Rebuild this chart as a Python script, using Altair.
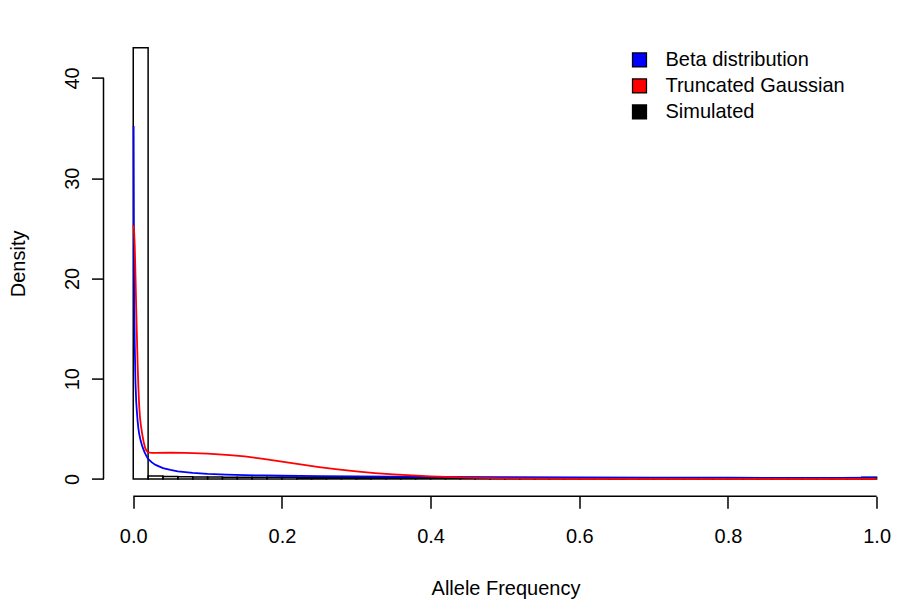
import altair as alt
import pandas as pd

# ---- data ----
x_ticks = [0.0, 0.2, 0.4, 0.6, 0.8, 1.0]
y_ticks = [0, 10, 20, 30, 40]

bin_width = 0.02
hist_heights = [
    43.0, 0.30, 0.25, 0.22, 0.20, 0.20, 0.18, 0.18, 0.17, 0.16,
    0.16, 0.15, 0.15, 0.14, 0.14, 0.13, 0.13, 0.12, 0.12, 0.12,
    0.11, 0.11, 0.10, 0.10, 0.10, 0.09, 0.09, 0.08, 0.08, 0.08,
    0.07, 0.07, 0.06, 0.06, 0.05, 0.05, 0.04, 0.04, 0.04, 0.03,
    0.03, 0.03, 0.03, 0.03, 0.03, 0.03, 0.03, 0.03, 0.03, 0.18,
]

beta_x = [0.0005, 0.001, 0.0015, 0.002, 0.003, 0.004, 0.005, 0.006, 0.007, 0.008,
          0.01, 0.012, 0.015, 0.018, 0.02, 0.025, 0.03, 0.04, 0.05, 0.06,
          0.08, 0.1, 0.125, 0.15, 0.175, 0.2, 0.25, 0.3, 0.4, 0.5,
          0.6, 0.7, 0.8, 0.9, 0.95, 1.0]
beta_y = [35.2, 22.0, 16.5, 13.5, 9.6, 7.7, 6.6, 5.7, 5.0, 4.5,
          3.8, 3.3, 2.7, 2.25, 2.0, 1.65, 1.4, 1.08, 0.9, 0.76,
          0.6, 0.5, 0.43, 0.38, 0.35, 0.32, 0.28, 0.25, 0.2, 0.17,
          0.15, 0.13, 0.12, 0.11, 0.11, 0.12]

gauss_x = [0.0, 0.0005, 0.001, 0.002, 0.003, 0.004, 0.005, 0.006, 0.007, 0.008,
           0.009, 0.010, 0.012, 0.014, 0.016, 0.018, 0.02, 0.025, 0.03, 0.05,
           0.07, 0.1, 0.13, 0.15, 0.175, 0.2, 0.225, 0.25, 0.275, 0.3,
           0.325, 0.35, 0.375, 0.4, 0.45, 0.5, 0.55, 0.6, 0.7, 0.8, 1.0]
gauss_y = [25.3, 25.2, 25.0, 23.3, 20.3, 17.0, 14.0, 11.2, 9.0, 7.3,
           6.2, 5.5, 4.5, 3.7, 3.1, 2.8, 2.65, 2.6, 2.6, 2.62,
           2.6, 2.52, 2.38, 2.25, 2.0, 1.72, 1.45, 1.18, 0.95, 0.75,
           0.58, 0.45, 0.35, 0.26, 0.13, 0.06, 0.03, 0.015, 0.005, 0.0, 0.0]

legend_labels = ["Beta distribution", "Truncated Gaussian", "Simulated"]
legend_colors = ["#0000FF", "#FF0000", "#000000"]

x_title = "Allele Frequency"
y_title = "Density"

# ---- layout ----
FONT = "Liberation Sans"
PLOT_W = 788
PLOT_H = 465.6
LW = 1.5
CURVE_W = 1.8

x_scale = alt.Scale(domain=[-0.04, 1.02], nice=False, zero=False)
y_scale = alt.Scale(domain=[-1.72, 44.72], nice=False, zero=False)

x_axis = alt.Axis(values=x_ticks, format=".1f", domain=False, grid=False,
                  tickSize=12, tickWidth=LW, tickColor="black",
                  labelFont=FONT, labelFontSize=20, labelColor="black",
                  labelPadding=18, labelFlush=False, labelOverlap=False,
                  title=x_title, titleFont=FONT, titleFontSize=20,
                  titleFontWeight="normal", titleColor="black",
                  titleX=402, titleY=98, titleAlign="center",
                  titleBaseline="alphabetic")
y_axis = alt.Axis(values=y_ticks, format="d", domain=False, grid=False,
                  tickSize=12, tickWidth=LW, tickColor="black",
                  labelFont=FONT, labelFontSize=20, labelColor="black",
                  labelPadding=13.5, labelAngle=270, labelAlign="center",
                  labelBaseline="alphabetic", labelFlush=False,
                  labelOverlap=False,
                  title=y_title, titleFont=FONT, titleFontSize=20,
                  titleFontWeight="normal", titleColor="black",
                  titleAngle=270, titleX=-79.5, titleY=PLOT_H / 2,
                  titleAlign="center", titleBaseline="alphabetic")


def X(field="x"):
    return alt.X(f"{field}:Q", scale=x_scale, axis=x_axis)


def Y(field="y"):
    return alt.Y(f"{field}:Q", scale=y_scale, axis=y_axis)


edges = [round(i * bin_width, 2) for i in range(len(hist_heights) + 1)]
hist_df = pd.DataFrame({"x": edges[:-1], "x_end": edges[1:], "y": hist_heights})
beta_df = pd.DataFrame({"x": beta_x, "y": beta_y, "series": legend_labels[0]})
gauss_df = pd.DataFrame({"x": gauss_x, "y": gauss_y, "series": legend_labels[1]})

hist = alt.Chart(hist_df).mark_rect(
    fill="white", fillOpacity=0, stroke="black", strokeWidth=LW
).encode(x=X(), x2="x_end:Q", y=Y(), y2=alt.datum(0))

line_color = alt.Color("series:N",
                       scale=alt.Scale(domain=legend_labels[:2], range=legend_colors[:2]),
                       legend=None)

beta_line = alt.Chart(beta_df).mark_line(strokeWidth=CURVE_W).encode(
    x=X(), y=Y(), color=line_color)
gauss_line = alt.Chart(gauss_df).mark_line(strokeWidth=CURVE_W).encode(
    x=X(), y=Y(), color=line_color)

# axis lines spanning only the tick range (R style)
xline_df = pd.DataFrame({"x": [x_ticks[0]], "x_end": [x_ticks[-1]]})
xline = alt.Chart(xline_df).mark_rule(color="black", strokeWidth=LW).encode(
    x=X(), x2="x_end:Q", y=alt.value(PLOT_H))
yline_df = pd.DataFrame({"y": [y_ticks[0]], "y_end": [y_ticks[-1]]})
yline = alt.Chart(yline_df).mark_rule(color="black", strokeWidth=LW).encode(
    y=Y(), y2="y_end:Q", x=alt.value(0))

# legend (filled squares with black border)
legend_df = pd.DataFrame({"series": legend_labels})
legend_layer = alt.Chart(legend_df).mark_square(size=0, opacity=1).encode(
    fill=alt.Fill("series:N",
                  scale=alt.Scale(domain=legend_labels, range=legend_colors),
                  legend=alt.Legend(orient="none", legendX=526, legendY=19.4,
                                    title=None, symbolType="square",
                                    symbolSize=196, symbolStrokeColor="black",
                                    symbolStrokeWidth=1.25, symbolOpacity=1,
                                    labelFont=FONT, labelFontSize=20,
                                    labelColor="black", labelOffset=16,
                                    rowPadding=6, padding=0, labelLimit=0))
)

chart = alt.layer(hist, beta_line, gauss_line, xline, yline, legend_layer).properties(
    width=PLOT_W, height=PLOT_H,
    autosize=alt.AutoSizeParams(type="none"),
    padding={"left": 95.5, "top": 22.6, "right": 0, "bottom": 104},
    background="white",
).configure_view(stroke="transparent")

chart.save("out.html", embed_options={"renderer": "svg", "actions": False})
